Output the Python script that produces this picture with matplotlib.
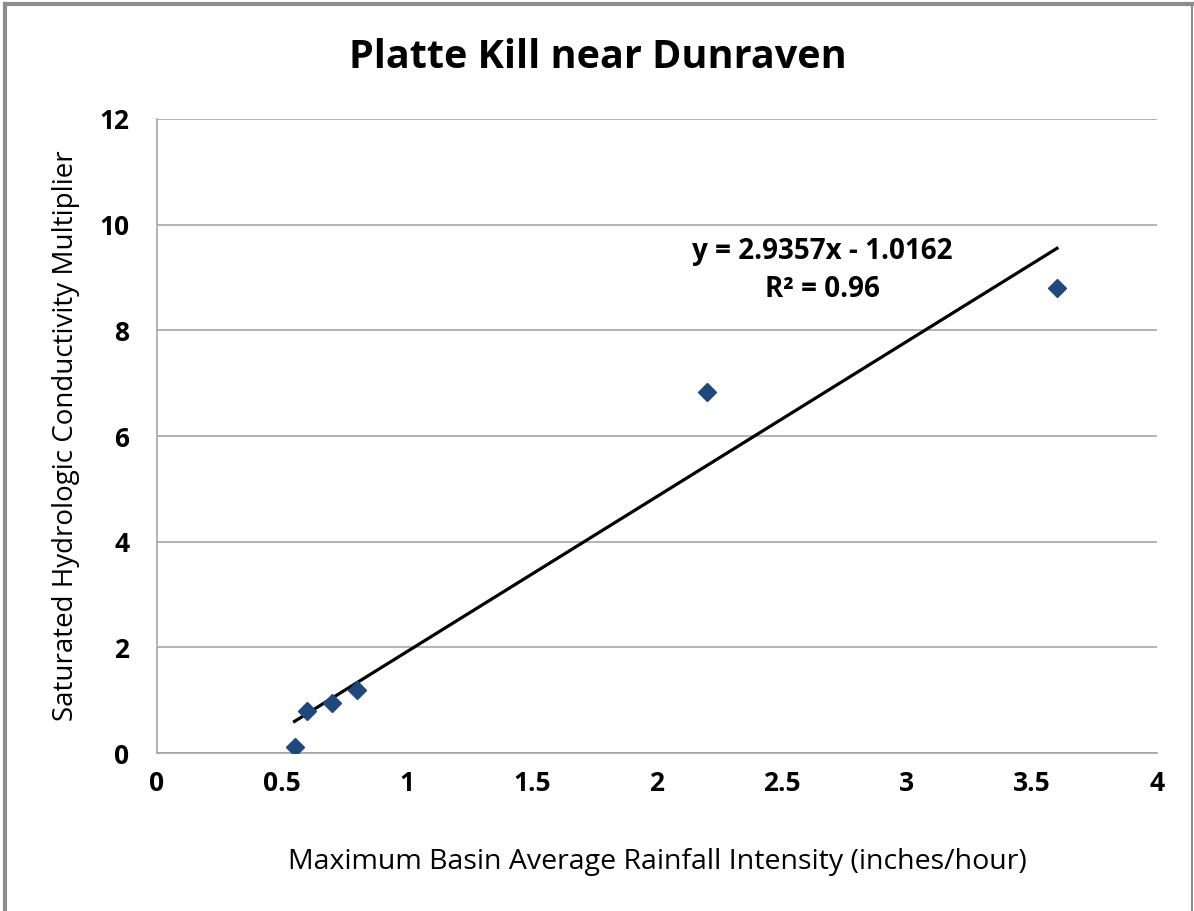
import numpy as np
import matplotlib.pyplot as plt

# values
rain = [0.55, 0.60, 0.70, 0.80, 2.20, 3.60]
ksat_mult = [0.12, 0.80, 0.95, 1.20, 6.84, 8.80]
slope = 2.9357
intercept = -1.0162
r2 = 0.96

x_ticks = [0, 0.5, 1, 1.5, 2, 2.5, 3, 3.5, 4]
x_labels = ["0", "0.5", "1", "1.5", "2", "2.5", "3", "3.5", "4"]
y_ticks = [0, 2, 4, 6, 8, 10, 12]

plt.rcParams['font.family'] = ['Open Sans', 'DejaVu Sans']

fig = plt.figure(figsize=(11.94, 9.11), dpi=100)
ax = fig.add_axes([0.1315, 0.1734, 0.8375, 0.696])

# gray border around the whole chart (no bottom edge visible)
fig.add_artist(plt.Line2D([0.004, 0.004], [0, 0.996], color="#8c8c8c", lw=3, transform=fig.transFigure))
fig.add_artist(plt.Line2D([0.004, 0.9985], [0.996, 0.996], color="#8c8c8c", lw=3, transform=fig.transFigure))
fig.add_artist(plt.Line2D([0.9985, 0.9985], [0, 0.996], color="#8c8c8c", lw=1.5, transform=fig.transFigure))

ax.set_xlim(0, 4)
ax.set_ylim(0, 12)
ax.set_xticks(x_ticks)
ax.set_xticklabels(x_labels)
ax.set_yticks(y_ticks)
ax.yaxis.grid(True, color="#a6a6a6", lw=1.2)
ax.set_axisbelow(True)
ax.tick_params(length=0, labelsize=19)
ax.tick_params(axis='x', pad=12)
ax.tick_params(axis='y', pad=20)
for lab in ax.get_xticklabels() + ax.get_yticklabels():
    lab.set_fontweight("bold")

for side in ["top", "right"]:
    ax.spines[side].set_visible(False)
for side in ["left", "bottom"]:
    ax.spines[side].set_color("#a6a6a6")
    ax.spines[side].set_linewidth(1.2)

# linear trendline over the range of the data
xs = np.array([min(rain), max(rain)])
ax.plot(xs, slope * xs + intercept, color="black", lw=2.3, zorder=2)

ax.plot(rain, ksat_mult, linestyle="none", marker="D", markersize=9,
        color="#1f497d", zorder=3)

ax.text(2.66, 9.5, f"y = {slope}x - {abs(intercept)}", ha="center", va="center",
        fontsize=20, fontweight="bold")
ax.text(2.66, 8.78, f"R² = {r2}", ha="center", va="center",
        fontsize=20, fontweight="bold")

fig.text(0.501, 0.937, "Platte Kill near Dunraven", ha="center", va="center",
         fontsize=28.5, fontweight="bold")
ax.set_xlabel("Maximum Basin Average Rainfall Intensity (inches/hour)", fontsize=20.5, labelpad=37)
ax.set_ylabel("Saturated Hydrologic Conductivity Multiplier", fontsize=20, labelpad=14)

fig.savefig("out.png", dpi=100)
